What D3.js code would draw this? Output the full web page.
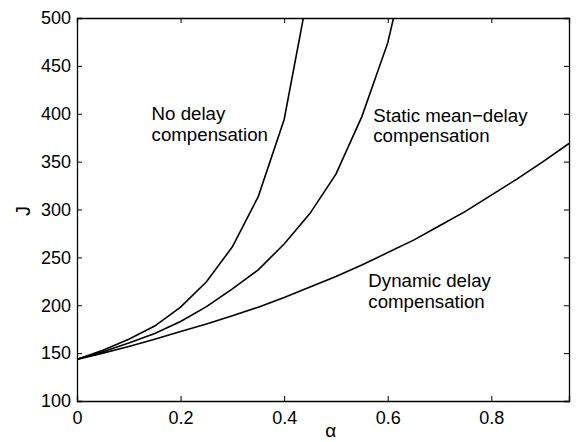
<!DOCTYPE html>
<html>
<head>
<meta charset="utf-8">
<script src="https://cdn.jsdelivr.net/npm/d3@7"></script>
<style>
  body { margin: 0; background: #fff; }
  svg text { font-family: "Liberation Sans", Arial, sans-serif; fill: #000; }
</style>
</head>
<body>
<div id="chart"></div>
<script>
var svgWidth = 577;
var svgHeight = 442;

var margin = { top: 18, right: 8, bottom: 41, left: 77 };
var width = svgWidth - margin.left - margin.right;
var height = svgHeight - margin.top - margin.bottom;

// data
var alphaNoDelay = [0, 0.05, 0.1, 0.15, 0.2, 0.25, 0.3, 0.35, 0.4, 0.45];
var jNoDelay = [143.5, 153, 164.5, 178.3, 198, 224.6, 261, 313.5, 394, 537];

var alphaStatic = [0, 0.05, 0.1, 0.15, 0.2, 0.25, 0.3, 0.35, 0.4, 0.45, 0.5, 0.55, 0.6, 0.65];
var jStatic = [143.5, 151.5, 160.5, 170.5, 183, 198.5, 217, 237, 264, 296, 337, 397, 474, 590];

var alphaDynamic = [0, 0.05, 0.1, 0.15, 0.2, 0.25, 0.3, 0.35, 0.4, 0.45, 0.5, 0.55, 0.6, 0.65, 0.7, 0.75, 0.8, 0.85, 0.9, 0.95];
var jDynamic = [143.5, 150, 157, 164.5, 172.5, 180.5, 189, 198, 208, 219, 230, 242, 255, 268, 283, 298, 315, 332, 350, 369];

var xTicks = [0, 0.2, 0.4, 0.6, 0.8];
var yTicks = [100, 150, 200, 250, 300, 350, 400, 450, 500];

var labels = [
  { lines: ["No delay", "compensation"], a: 0.144, j: 393.5 },
  { lines: ["Static mean\u2212delay", "compensation"], a: 0.572, j: 391.7 },
  { lines: ["Dynamic delay", "compensation"], a: 0.5625, j: 219 }
];

var svg = d3.select("#chart")
  .append("svg")
  .attr("width", svgWidth)
  .attr("height", svgHeight);

var chartGroup = svg.append("g")
  .attr("transform", `translate(${margin.left}, ${margin.top})`);

var xScale = d3.scaleLinear().domain([0, 0.95]).range([0, width]);
var yScale = d3.scaleLinear().domain([100, 500]).range([height, 0]);

svg.append("defs").append("clipPath")
  .attr("id", "plotclip")
  .append("rect")
  .attr("width", width)
  .attr("height", height);

// axes, MATLAB style: ticks inward, box all round
var tickLen = 5;
var bottomAxis = d3.axisBottom(xScale).tickValues(xTicks).tickSize(-tickLen).tickPadding(10).tickFormat(d3.format("~g"));
var topAxis = d3.axisTop(xScale).tickValues(xTicks).tickSize(-tickLen).tickFormat("");
var leftAxis = d3.axisLeft(yScale).tickValues(yTicks).tickSize(-tickLen).tickPadding(6);
var rightAxis = d3.axisRight(yScale).tickValues(yTicks).tickSize(-tickLen).tickFormat("");

chartGroup.append("g").attr("transform", `translate(0, ${height})`).call(bottomAxis);
chartGroup.append("g").call(topAxis);
chartGroup.append("g").call(leftAxis);
chartGroup.append("g").attr("transform", `translate(${width}, 0)`).call(rightAxis);

chartGroup.selectAll(".domain").attr("stroke", "#000").attr("stroke-width", 1.3);
chartGroup.selectAll(".tick line").attr("stroke", "#000");
chartGroup.selectAll(".tick text").style("font-size", "18px");

var line = d3.line()
  .x(d => xScale(d[0]))
  .y(d => yScale(d[1]));

var series = [
  d3.zip(alphaNoDelay, jNoDelay),
  d3.zip(alphaStatic, jStatic),
  d3.zip(alphaDynamic, jDynamic)
];

chartGroup.append("g")
  .attr("clip-path", "url(#plotclip)")
  .selectAll("path")
  .data(series)
  .enter()
  .append("path")
  .attr("d", line)
  .attr("fill", "none")
  .attr("stroke", "#000")
  .attr("stroke-width", 1.6);

// curve labels
labels.forEach(function(l) {
  var t = chartGroup.append("text")
    .attr("x", xScale(l.a))
    .attr("y", yScale(l.j))
    .style("font-size", "18.7px");
  l.lines.forEach(function(s, i) {
    t.append("tspan")
      .attr("x", xScale(l.a))
      .attr("dy", i === 0 ? 0 : 20.7)
      .text(s);
  });
});

// axis titles
svg.append("text")
  .attr("x", margin.left + xScale(0.49))
  .attr("y", 437)
  .attr("text-anchor", "middle")
  .style("font-size", "19px")
  .text("\u03b1");

svg.append("text")
  .attr("transform", "translate(30, 211) rotate(-90)")
  .attr("text-anchor", "middle")
  .style("font-size", "20px")
  .text("J");
</script>
</body>
</html>
